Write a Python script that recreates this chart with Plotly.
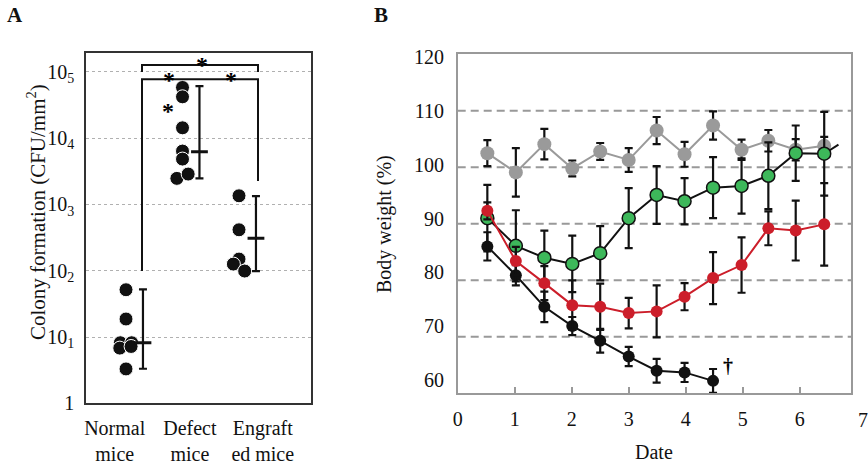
import plotly.graph_objects as go

W, H = 868, 466

# ---------------- Panel A data ----------------
groups = ["Normal<br>mice", "Defect<br>mice", "Engraft<br>ed mice"]
normal_vals = [51.7, 18.7, 8.2, 8.2, 6.8, 7.2, 3.3]
normal_jit = [0, 0, -0.1, 0.1, -0.11, 0.09, 0]
defect_vals = [58300, 42100, 14350, 6390, 4840, 2476, 2876]
defect_jit = [0, 0, 0, 0, 0, -0.1, 0.1]
engraft_vals = [1352, 415, 150, 126, 99]
engraft_jit = [0, 0, 0, -0.1, 0.1]
group_mean = [8.2, 6240, 308]
group_hi = [52.4, 61100, 1340]
group_lo = [3.32, 2476, 99]
a_ticks = [1, 10, 100, 1000, 10000, 100000]
a_ticktext = ["1", "10<sub>1</sub>", "10<sub>2</sub>", "10<sub>3</sub>", "10<sub>4</sub>", "10<sub>5</sub>"]

# ---------------- Panel B data ----------------
days = [0.52, 1.02, 1.52, 2.01, 2.5, 3.0, 3.49, 3.98, 4.48, 4.98, 5.45, 5.93, 6.43]
gray_vals = [102.5, 99.1, 104.1, 99.8, 102.8, 101.3, 106.5, 102.3, 107.4, 103.1, 104.7, 103.1, 103.8]
gray_err = [2.3, 4.3, 2.7, 1.4, 1.5, 2.1, 2.4, 2.2, 2.5, 1.8, 1.9, 1.9, 1.6]
green_vals = [91.0, 86.1, 84.0, 82.9, 84.8, 91.0, 95.1, 94.0, 96.4, 96.7, 98.5, 102.5, 102.4]
green_err = [5.9, 6.3, 4.8, 5.0, 4.8, 5.3, 5.1, 4.1, 5.4, 4.9, 5.9, 4.9, 7.4]
green_tail_x = [6.43, 6.68]
green_tail_y = [102.4, 104.0]
red_vals = [92.3, 83.4, 79.5, 75.6, 75.3, 74.2, 74.5, 77.1, 80.4, 82.7, 89.2, 88.8, 89.9]
red_err = [1.5, 2.5, 3.0, 4.4, 4.1, 2.7, 4.6, 2.4, 4.6, 4.9, 3.0, 5.3, 7.3]
black_vals = [86.0, 80.9, 75.3, 71.9, 69.3, 66.5, 64.0, 63.7, 62.2]
black_err = [2.5, 1.8, 2.7, 1.6, 2.1, 1.7, 2.1, 1.7, 2.1]
b_ylabels = [60, 70, 80, 90, 100, 110, 120]
b_grid = [70, 80, 90, 100, 110]
b_xticks = [0, 1, 2, 3, 4, 5, 6]

# In the source figure the y labels are spaced slightly tighter than the gridlines:
# label "60" sits at 62.35 and label "120" at 119.5 on the gridline scale.
b_label_pos = [62.35 + (v - 60) * (119.5 - 62.35) / 60 for v in b_ylabels]

SERIF = "Liberation Serif"
INK = "#111111"

def px(x):
    return x / W

def py(y):
    return 1 - y / H

fig = go.Figure()

# ---- Panel A points ----
for i, (vals, jit) in enumerate([(normal_vals, normal_jit), (defect_vals, defect_jit), (engraft_vals, engraft_jit)]):
    fig.add_trace(go.Scatter(
        x=[i + 1 + j for j in jit], y=vals, mode="markers",
        marker=dict(size=14, color=INK, line=dict(color="white", width=1)),
        xaxis="x", yaxis="y", showlegend=False, cliponaxis=False))

fig.add_trace(go.Scatter(
    x=[g + 0.3 for g in range(1, 4)], y=group_mean, mode="markers",
    marker=dict(symbol="line-ew", size=12, line=dict(color=INK, width=3)),
    error_y=dict(type="data", symmetric=False,
                 array=[h - m for h, m in zip(group_hi, group_mean)],
                 arrayminus=[m - l for m, l in zip(group_mean, group_lo)],
                 color=INK, thickness=2.2, width=4),
    xaxis="x", yaxis="y", showlegend=False))

# ---- Panel B series ----
def series(x, y, err, color, mcolor, msize, mline=None):
    fig.add_trace(go.Scatter(
        x=x, y=y, mode="lines+markers",
        line=dict(color=color, width=2),
        marker=dict(size=msize, color=mcolor,
                    line=dict(color=mline or mcolor, width=1.5 if mline else 0)),
        error_y=dict(type="data", array=err, color=INK, thickness=2.2, width=4),
        xaxis="x2", yaxis="y2", showlegend=False, cliponaxis=False))

series(days, gray_vals, gray_err, "#9a9a9a", "#9a9a9a", 14)
series(days[:len(black_vals)], black_vals, black_err, INK, INK, 12)
fig.add_trace(go.Scatter(x=green_tail_x, y=green_tail_y, mode="lines",
                         line=dict(color=INK, width=2), xaxis="x2", yaxis="y2",
                         showlegend=False))
series(days, green_vals, green_err, INK, "#3db85a", 13, mline=INK)
series(days, red_vals, red_err, "#cc1e2a", "#cc1e2a", 12)

# ---- Shapes (brackets + panel B gridlines) ----
lw = dict(color=INK, width=2)
shapes = [
    dict(type="path", xref="paper", yref="paper", line=lw,
         path=f"M {px(142)} {py(72)} L {px(142)} {py(65)} L {px(258)} {py(65)} L {px(258)} {py(72)}"),
    dict(type="path", xref="paper", yref="paper", line=lw,
         path=f"M {px(142)} {py(271)} L {px(142)} {py(79.3)} L {px(258)} {py(79.3)} L {px(258)} {py(181)}"),
]
for g in b_grid:
    shapes.append(dict(type="line", xref="x2 domain", yref="y2", x0=0, x1=1, y0=g, y1=g,
                       layer="below", line=dict(color="#999", width=2, dash="8px,5px")))

ann = []
for (x, y) in [(202, 62), (169, 77), (231, 77), (168, 108)]:
    ann.append(dict(text="<b>*</b>", x=px(x), y=py(y + 3), xref="paper", yref="paper",
                    showarrow=False, font=dict(family=SERIF, size=24, color="#000000"),
                    xanchor="center", yanchor="middle"))
ann += [
    dict(text="<b>A</b>", x=px(15), y=py(15), xref="paper", yref="paper", showarrow=False,
         font=dict(family=SERIF, size=21, color=INK), xanchor="center", yanchor="middle"),
    dict(text="<b>B</b>", x=px(381), y=py(15), xref="paper", yref="paper", showarrow=False,
         font=dict(family=SERIF, size=21, color=INK), xanchor="center", yanchor="middle"),
    dict(text="Colony formation (CFU/mm<sup>2</sup>)", x=px(36), y=py(212), xref="paper", yref="paper",
         showarrow=False, textangle=-90, font=dict(family=SERIF, size=21, color=INK),
         xanchor="center", yanchor="middle"),
    dict(text="Body weight (%)", x=px(385), y=py(224), xref="paper", yref="paper",
         showarrow=False, textangle=-90, font=dict(family=SERIF, size=20, color=INK),
         xanchor="center", yanchor="middle"),
    dict(text="Date", x=px(654), y=py(452), xref="paper", yref="paper", showarrow=False,
         font=dict(family=SERIF, size=20, color=INK), xanchor="center", yanchor="middle"),
    dict(text="7", x=px(863), y=py(420), xref="paper", yref="paper", showarrow=False,
         font=dict(family=SERIF, size=20, color=INK), xanchor="center", yanchor="middle"),
    dict(text="<b>†</b>", x=px(728), y=py(366), xref="paper", yref="paper", showarrow=False,
         font=dict(family=SERIF, size=20, color="#000000"), xanchor="center", yanchor="middle"),
]

common = dict(automargin=False, zeroline=False, showline=True, mirror=True, linewidth=1.5)

fig.update_layout(
    width=W, height=H, margin=dict(l=0, r=0, t=0, b=0, autoexpand=False),
    paper_bgcolor="white", plot_bgcolor="white",
    font=dict(family=SERIF, color=INK),
    shapes=shapes, annotations=ann,
    xaxis=dict(domain=[px(86), px(311)], range=[0.292, 4.274], anchor="y",
               tickvals=[0.80, 2.13, 3.42], ticktext=groups, ticks="",
               tickfont=dict(family=SERIF, size=20, color=INK), ticklabelstandoff=6,
               showgrid=False, linecolor="#333", **common),
    yaxis=dict(domain=[py(403.3), py(52.7)], type="log", range=[0, 5.29], anchor="x",
               tickvals=a_ticks, ticktext=a_ticktext, ticks="",
               tickfont=dict(family=SERIF, size=20, color=INK), ticklabelstandoff=6,
               showgrid=True, gridcolor="#b0b0b0", griddash="dot", gridwidth=1,
               linecolor="#333", **common),
    xaxis2=dict(domain=[px(457.7), px(851)], range=[0, 6.9], anchor="y2",
                tickvals=b_xticks, ticks="inside", ticklen=7, tickcolor="#999", tickwidth=1.5,
                tickfont=dict(family=SERIF, size=20, color=INK), ticklabelstandoff=7,
                showgrid=False, linecolor="#999", **common),
    yaxis2=dict(domain=[py(393.3), py(54.3)], range=[60, 120], anchor="x2",
                tickvals=b_label_pos, ticktext=[str(v) for v in b_ylabels], ticks="",
                tickfont=dict(family=SERIF, size=20, color=INK), ticklabelstandoff=8,
                showgrid=False, linecolor="#999", **common),
)

fig.write_html("out.html", config={"displayModeBar": False},
               post_script="document.body.style.margin='0';document.documentElement.style.overflow='hidden';")
